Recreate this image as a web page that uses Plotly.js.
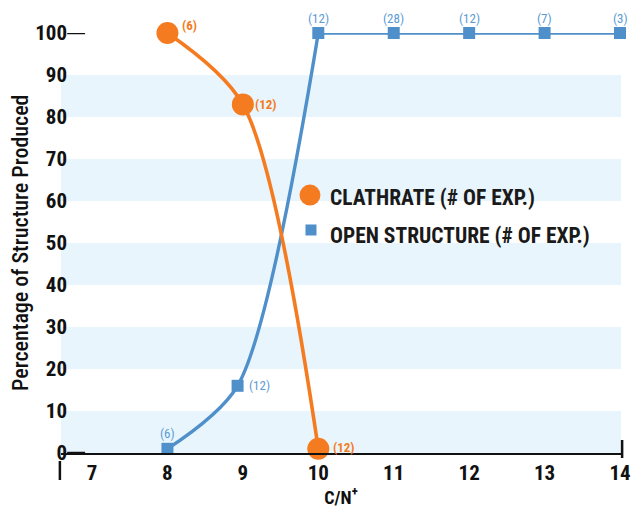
<!DOCTYPE html>
<html>
<head>
<meta charset="utf-8">
<script src="https://cdn.plot.ly/plotly-3.0.1.min.js"></script>
<style>html,body{margin:0;padding:0;background:#fff;}#chart{width:634px;height:508px;}</style>
</head>
<body>
<div id="chart"></div>
<script>
// ---- data ----
const xTicks = [7, 8, 9, 10, 11, 12, 13, 14];
const yTicks = [0, 10, 20, 30, 40, 50, 60, 70, 80, 90, 100];
const clathrateX = [8, 9, 10];
const clathrateY = [100, 83, 1];
const clathrateN = ['(6)', '(12)', '(12)'];
const openX = [8, 8.93, 10, 11, 12, 13, 14];
const openY = [1, 16, 100, 100, 100, 100, 100];
const openN = ['(6)', '(12)', '(12)', '(28)', '(12)', '(7)', '(3)'];
const seriesNames = ['CLATHRATE (# OF EXP.)', 'OPEN STRUCTURE (# OF EXP.)'];
const yTitle = 'Percentage of Structure Produced';
const xTitle = 'C/N<sup>+</sup>';

// ---- style ----
const ORANGE = '#F47B20';
const BLUE = '#4F8FCA';
const BLUE_TXT = '#5B9BD5';
const BAND = '#E8F5FC';
const FONT = '"Liberation Sans Narrow", "Arial Narrow", "Roboto Condensed", Arial, sans-serif';
// label offsets in pixels (style, not data)
const clathrateShift = [[22, 8], [23, 0], [26, 1]];
const openShift = openN.map((_, i) => i === 1 ? [22, 0] : [0, 15]);

const traces = [
  { // open structure curve part
    x: openX.slice(0, 3), y: openY.slice(0, 3), mode: 'lines',
    line: {color: BLUE, width: 3.4, shape: 'spline', smoothing: 0.8},
    showlegend: false, hoverinfo: 'skip', cliponaxis: false
  },
  { // open structure flat part
    x: openX.slice(2), y: openY.slice(2), mode: 'lines',
    line: {color: BLUE, width: 3.4},
    showlegend: false, hoverinfo: 'skip', cliponaxis: false
  },
  {
    x: openX, y: openY, mode: 'markers', name: seriesNames[1],
    marker: {symbol: 'square', size: 12, color: BLUE},
    showlegend: false, cliponaxis: false
  },
  {
    x: clathrateX, y: clathrateY, mode: 'lines+markers', name: seriesNames[0],
    line: {color: ORANGE, width: 3.6, shape: 'spline', smoothing: 0.85},
    marker: {symbol: 'circle', size: 22, color: ORANGE},
    showlegend: false, cliponaxis: false
  }
];

const shapes = [];
// alternating light-blue bands
for (let i = 0; i < yTicks.length - 1; i += 2) {
  shapes.push({type: 'rect', xref: 'paper', yref: 'y', x0: 0, x1: 1,
    y0: yTicks[i], y1: yTicks[i + 1], fillcolor: BAND, line: {width: 0}, layer: 'below'});
}
// small dashes beside 100 and 0
[yTicks[0], yTicks[yTicks.length - 1]].forEach(v => {
  shapes.push({type: 'line', xref: 'paper', yref: 'y', x0: 0.011, x1: 0.043, y0: v, y1: v,
    line: {color: '#111', width: 2.5}});
});
// end bars
shapes.push({type: 'line', xref: 'paper', yref: 'paper', ysizemode: 'pixel', yanchor: 0,
  x0: -0.002, x1: -0.002, y0: -8, y1: -27, line: {color: '#111', width: 2.5}});
shapes.push({type: 'line', xref: 'paper', yref: 'paper', ysizemode: 'pixel', yanchor: 0,
  x0: 1.002, x1: 1.002, y0: -5, y1: 13, line: {color: '#111', width: 2.5}});
// legend symbols
shapes.push({type: 'circle', xref: 'paper', yref: 'paper', xsizemode: 'pixel', ysizemode: 'pixel',
  xanchor: 0.4446, yanchor: 0.614, x0: -10.5, x1: 10.5, y0: -10.5, y1: 10.5,
  fillcolor: ORANGE, line: {width: 0}});
shapes.push({type: 'rect', xref: 'paper', yref: 'paper', xsizemode: 'pixel', ysizemode: 'pixel',
  xanchor: 0.4464, yanchor: 0.531, x0: -5.5, x1: 5.5, y0: -5.5, y1: 5.5,
  fillcolor: BLUE, line: {width: 0}});

const annotations = [
  {xref: 'paper', yref: 'paper', x: 0.477, y: 0.6095, xanchor: 'left', yanchor: 'middle',
   text: seriesNames[0], showarrow: false, font: {family: FONT, size: 21.5, color: '#1a1a1a', weight: 'bold'}},
  {xref: 'paper', yref: 'paper', x: 0.477, y: 0.519, xanchor: 'left', yanchor: 'middle',
   text: seriesNames[1], showarrow: false, font: {family: FONT, size: 21.5, color: '#1a1a1a', weight: 'bold'}},
  {xref: 'paper', yref: 'paper', x: -0.0732, y: 0.5, xanchor: 'center', yanchor: 'middle',
   textangle: -90, text: yTitle, showarrow: false, font: {family: FONT, size: 22, color: '#111', weight: 500}}
];
clathrateX.forEach((x, i) => annotations.push({
  x: x, y: clathrateY[i], xref: 'x', yref: 'y', text: clathrateN[i], showarrow: false,
  xshift: clathrateShift[i][0], yshift: clathrateShift[i][1],
  font: {family: FONT, size: 13, color: ORANGE, weight: 'bold'}
}));
openX.forEach((x, i) => annotations.push({
  x: x, y: openY[i], xref: 'x', yref: 'y', text: openN[i], showarrow: false,
  xshift: openShift[i][0], yshift: openShift[i][1],
  font: {family: FONT, size: 13, color: BLUE_TXT}
}));

const layout = {
  width: 634, height: 508,
  margin: {l: 61, r: 13, t: 33, b: 55},
  paper_bgcolor: '#fff', plot_bgcolor: '#fff',
  showlegend: false,
  font: {family: FONT, color: '#111'},
  xaxis: {
    range: [6.589, 14.013], tickvals: xTicks, ticktext: xTicks.map(String),
    showgrid: false, zeroline: false, showline: true, linecolor: '#111', linewidth: 1.6,
    ticks: '', tickfont: {family: FONT, size: 21, weight: 'bold', color: '#111'},
    ticklabelstandoff: 0,
    title: {text: xTitle, font: {family: FONT, size: 18, weight: 'bold', color: '#111'}, standoff: 5}
  },
  yaxis: {
    range: [0, 100], tickvals: yTicks, ticktext: yTicks.map(String),
    showgrid: false, zeroline: false, showline: false, ticks: '',
    tickfont: {family: FONT, size: 21, weight: 'bold', color: '#111'},
    ticklabelstandoff: -7
  },
  shapes: shapes,
  annotations: annotations
};

Plotly.newPlot('chart', traces, layout, {displayModeBar: false, staticPlot: true});
</script>
</body>
</html>
